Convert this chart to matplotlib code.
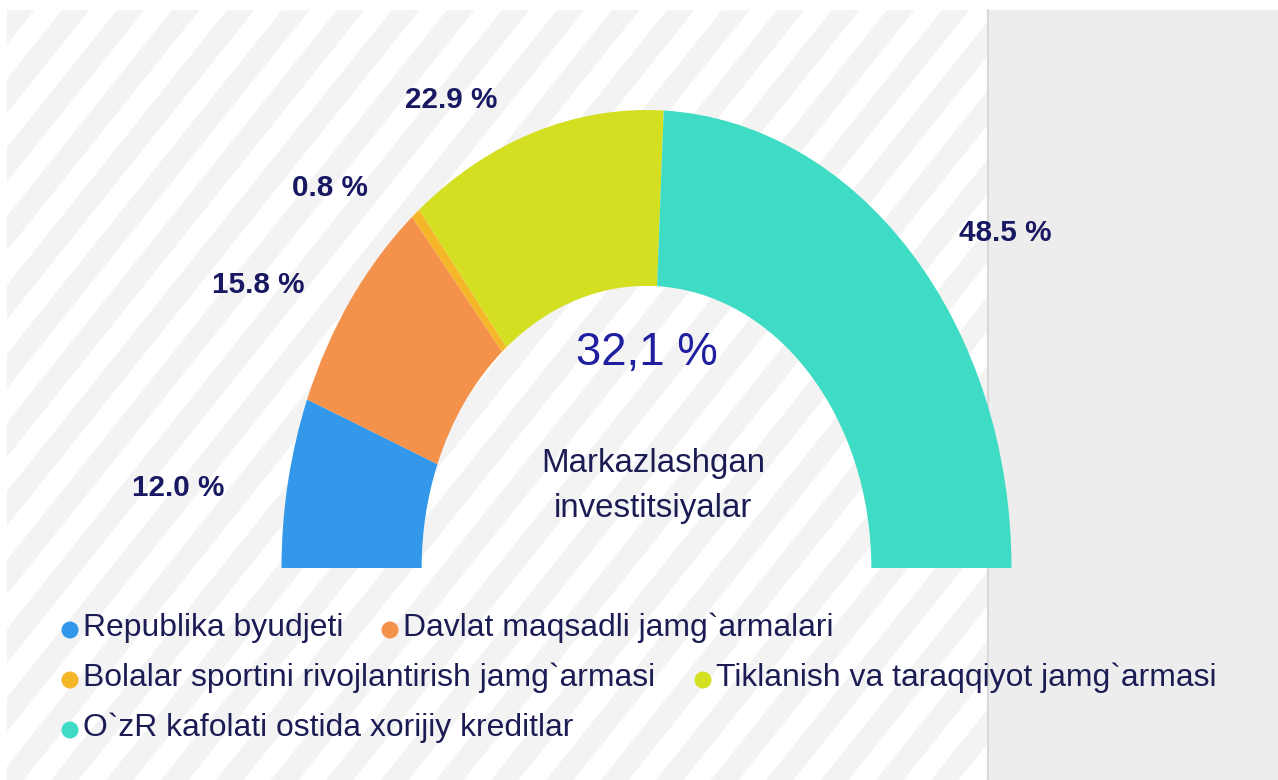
import numpy as np
import matplotlib
matplotlib.use("Agg")
import matplotlib.pyplot as plt
import matplotlib.font_manager as fm
from matplotlib.patches import Rectangle, Polygon

# DATOS
nombres = ["Republika byudjeti", "Davlat maqsadli jamg`armalari",
           "Bolalar sportini rivojlantirish jamg`armasi",
           "Tiklanish va taraqqiyot jamg`armasi",
           "O`zR kafolati ostida xorijiy kreditlar"]
valores = [12.0, 15.8, 0.8, 22.9, 48.5]
colores = ["#3398ea", "#f4914a", "#f6b62a", "#d5df22", "#3edcc4"]
total_txt = "32,1 %"
subtitulo = "Markazlashgan\ninvestitsiyalar"

# posiciones de etiquetas (coordenadas del eje de la dona)
pos_etiquetas = [(-1.284, 0.175), (-1.064, 0.618), (-0.867, 0.830),
                 (-0.536, 1.022), (0.982, 0.731)]

# leyenda: (x punto, y fila) en pixeles
pos_leyenda = [(70, 628), (390, 628), (70, 678), (703, 678), (70, 728)]


def hay_fuente(nombre):
    try:
        fm.findfont(fm.FontProperties(family=nombre), fallback_to_default=False)
        return True
    except ValueError:
        return False


if hay_fuente("Liberation Sans Narrow"):
    fuente = ["Liberation Sans Narrow", "DejaVu Sans"]
    esc = 1.0
else:
    fuente = ["Liberation Sans", "DejaVu Sans"]
    esc = 0.82
plt.rcParams["font.family"] = fuente

W, H = 1278, 780
fig = plt.figure(figsize=(W / 100, H / 100), dpi=100)
fig.patch.set_facecolor("white")

# FONDO
fondo = fig.add_axes([0, 0, 1, 1])
fondo.set_xlim(0, W)
fondo.set_ylim(H, 0)
fondo.axis("off")
clip = Rectangle((7, 10), 988 - 7, H - 10, facecolor="white", edgecolor="none")
fondo.add_patch(clip)
periodo = 55
pend = 1.25
ancho = periodo / 2
for k in range(-20, 40):
    x0 = 7 + k * periodo
    dx = (H - 10) / pend
    poly = Polygon([(x0, 10), (x0 + ancho, 10), (x0 + ancho - dx, H), (x0 - dx, H)],
                   closed=True, facecolor="#f3f3f3", edgecolor="none")
    fondo.add_patch(poly)
    poly.set_clip_path(clip)
fondo.add_patch(Rectangle((988, 10), W - 988, H - 10, facecolor="#ededed", edgecolor="none"))
fondo.plot([988, 988], [10, H], color="#d8d8d8", lw=1.5)

# DONA
cx, cy = 646.5, 568
rx, ry = 365, 458
ax = fig.add_axes([(cx - rx) / W, (H - cy - ry) / H, 2 * rx / W, 2 * ry / H])
ax.patch.set_alpha(0)
wedges, _ = ax.pie(valores + [sum(valores)], colors=colores + ["none"],
                   startangle=180, counterclock=False, radius=1,
                   wedgeprops=dict(width=0.384, edgecolor="none"))
wedges[-1].set_visible(False)
ax.set_aspect("auto")
ax.set_xlim(-1, 1)
ax.set_ylim(-1, 1)
ax.axis("off")

for v, (x, y) in zip(valores, pos_etiquetas):
    ax.text(x, y, f"{v:.1f} %", ha="center", va="center", fontsize=26 * esc,
            fontweight="bold", color="#191963", clip_on=False)

ax.text(0, 0.469, total_txt, ha="center", va="center", fontsize=40 * esc,
        color="#1f1fa0")
ax.text(0.018, 0.179, subtitulo, ha="center", va="center", fontsize=29 * esc,
        color="#1c1c55", linespacing=1.6)

# LEYENDA
ley = fig.add_axes([0, 0, 1, 1])
ley.set_xlim(0, W)
ley.set_ylim(H, 0)
ley.axis("off")
ley.patch.set_alpha(0)
for nom, col, (x, y) in zip(nombres, colores, pos_leyenda):
    ley.scatter([x], [y + 2], s=150, color=col, edgecolors="none")
    ley.text(x + 13, y, nom, ha="left", va="center", fontsize=28 * esc,
             color="#1c1c55")

fig.savefig("out.png", dpi=100)
